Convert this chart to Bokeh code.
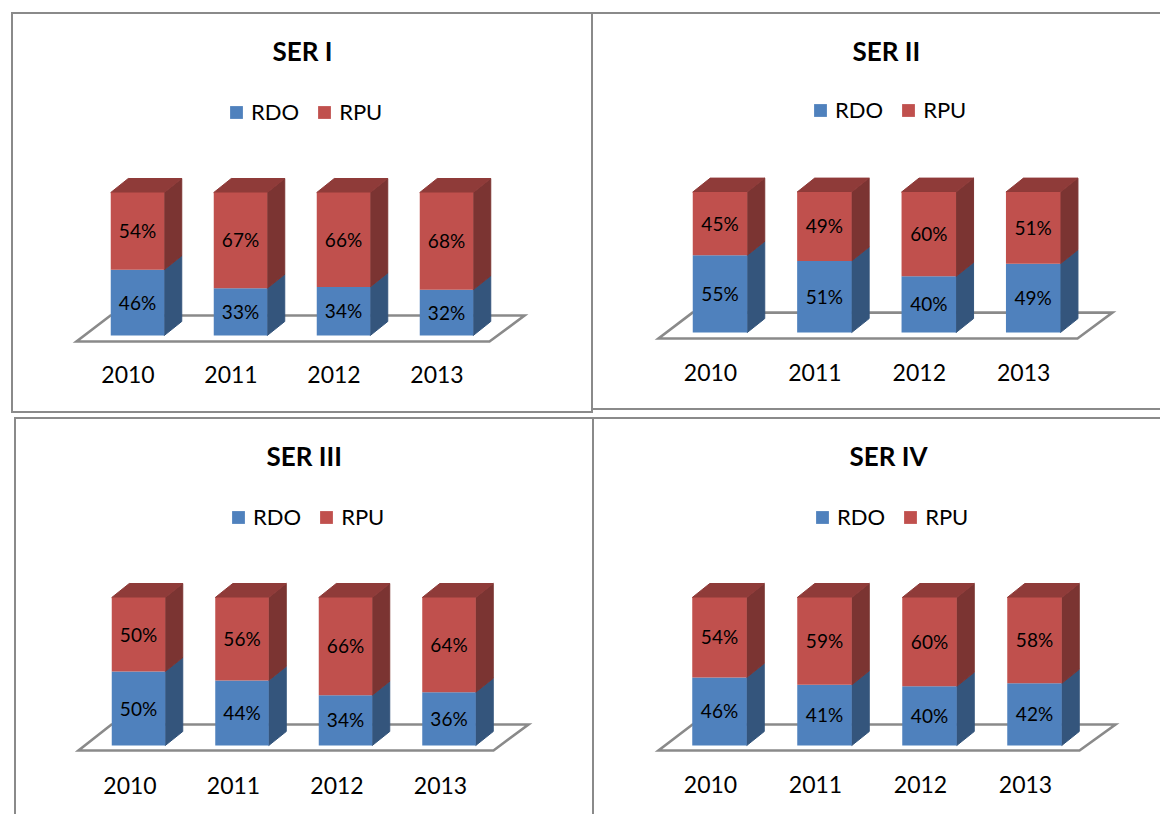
from bokeh.plotting import figure
from bokeh.layouts import column, row
from bokeh.models import Range1d, FixedTicker, Legend, LegendItem, ColumnDataSource
from bokeh.core.properties import value
from bokeh.embed import file_html
from bokeh.resources import INLINE

years = ["2010", "2011", "2012", "2013"]
titles = ["SER I", "SER II", "SER III", "SER IV"]
rdo = [[46, 33, 34, 32], [55, 51, 40, 49], [50, 44, 34, 36], [46, 41, 40, 42]]
rpu = [[54, 67, 66, 68], [45, 49, 60, 51], [50, 56, 66, 64], [54, 59, 60, 58]]

BLUE, RED = "#4F81BD", "#C0504D"
BLUE_S, RED_S, RED_T = "#34557C", "#7B3432", "#8F3B39"
GRAY = "#8A8A8A"
FONT = "Lato"

# page geometry per panel (pixels in the window)
geo = [
    dict(l=11, t=12, r=593, b=413, tick0=127.5, sp=103, bw=53.5, tickoff=9.5, top=192, base=335, floor=341,
         back=315, fl=76, fr=489, bl=110, br=524, leg=230, legy=113, stand=13, tleft=272, borders="tlrb", margin=(12, 0, 0, 11)),
    dict(l=593, t=12, r=1160, b=410, tick0=710, sp=104.4, bw=54.5, tickoff=9.5, top=192, base=333, floor=339,
         back=313, fl=658, fr=1077, bl=692, br=1112, leg=814, legy=112, stand=14, tleft=852, borders="tb", margin=(12, 0, 0, 0)),
    dict(l=14, t=417, r=592, b=814, tick0=129.5, sp=103.5, bw=53.5, tickoff=8.5, top=597, base=745, floor=750,
         back=724, fl=78, fr=493, bl=111, br=528, leg=232, legy=113, stand=15, tleft=266, borders="tl", margin=(4, 0, 0, 14)),
    dict(l=592, t=417, r=1160, b=814, tick0=710, sp=105, bw=54.5, tickoff=9, top=597, base=745, floor=750,
         back=724, fl=658, fr=1079, bl=692, br=1115, leg=816, legy=113, stand=14, tleft=849, borders="tl", margin=(4, 0, 0, 0)),
]
DX, DY = 17.5, 14


def panel(i):
    g = geo[i]
    w, h = g["r"] - g["l"], g["b"] - g["t"]
    bl = 2 if "l" in g["borders"] else 0
    bt = 2 if "t" in g["borders"] else 0
    frame_top, frame_bottom = g["t"] + 56, g["floor"] + 5
    sc = (g["base"] - g["top"]) / 100.0
    px = lambda v: (v - g["tick0"]) / g["sp"]
    py = lambda v: (g["base"] - v) / sc
    p = figure(width=w, height=h, output_backend="svg", toolbar_location=None,
               x_range=Range1d(px(g["l"] + bl), px(g["r"] + bl)), y_range=Range1d(py(frame_bottom), py(frame_top)),
               min_border_left=0, min_border_right=0, min_border_top=frame_top - g["t"] - bt,
               min_border_bottom=g["b"] + bt - frame_bottom, outline_line_color=None,
               background_fill_color="white", border_fill_color="white")
    p.margin = g["margin"]
    sides = {"t": "top", "l": "left", "r": "right", "b": "bottom"}
    p.styles = {f"border-{sides[s]}": f"2px solid {GRAY}" for s in g["borders"]} | {"box-sizing": "border-box"}

    p.title.text = titles[i]
    p.title.align = "left"
    p.title.offset = g["tleft"] - g["l"] - bl
    p.title.text_font = FONT
    p.title.text_font_style = "bold"
    p.title.text_font_size = "26px"
    p.title.text_color = "black"
    p.title.standoff = 4

    p.yaxis.visible = False
    p.grid.visible = False
    ax = p.xaxis[0]
    ax.ticker = FixedTicker(ticks=[0, 1, 2, 3])
    ax.major_label_overrides = {k: years[k] for k in range(4)}
    ax.axis_line_color = None
    ax.major_tick_line_color = None
    ax.minor_tick_line_color = None
    ax.major_label_text_font = FONT
    ax.major_label_text_font_size = "23px"
    ax.major_label_text_color = "black"
    ax.major_label_standoff = g["stand"]

    # floor of the 3-D plot
    p.patch([px(g["fl"]), px(g["fr"]), px(g["br"]), px(g["bl"])],
            [py(g["floor"]), py(g["floor"]), py(g["back"]), py(g["back"])],
            fill_color="white", line_color=GRAY, line_width=2.6, line_join="miter")

    xs = [k + g["tickoff"] / g["sp"] for k in range(4)]
    half = g["bw"] / 2 / g["sp"]
    ddx, ddy = DX / g["sp"], DY / sc
    a, b = rdo[i], rpu[i]
    tops = [x + y for x, y in zip(a, b)]

    # side and top faces
    p.patches([[x + half, x + half + ddx, x + half + ddx, x + half] for x in xs],
              [[0, ddy, ddy + v, v] for v in a], fill_color=BLUE_S, line_color=BLUE_S)
    p.patches([[x + half, x + half + ddx, x + half + ddx, x + half] for x in xs],
              [[v, v + ddy, t + ddy, t] for v, t in zip(a, tops)], fill_color=RED_S, line_color=RED_S)
    p.patches([[x - half, x + half, x + half + ddx, x - half + ddx] for x in xs],
              [[t, t, t + ddy, t + ddy] for t in tops], fill_color=RED_T, line_color=RED_T)

    # front faces
    r1 = p.vbar(x=xs, bottom=0, top=a, width=2 * half, fill_color=BLUE, line_color=None)
    r2 = p.vbar(x=xs, bottom=a, top=tops, width=2 * half, fill_color=RED, line_color=None)

    for vals, bottoms in ((a, [0] * 4), (b, a)):
        src = ColumnDataSource(dict(x=xs, y=[s + v / 2 for s, v in zip(bottoms, vals)],
                                    t=[f"{v}%" for v in vals]))
        p.text(x="x", y="y", text="t", source=src, text_align="center", text_baseline="middle",
               text_font=value(FONT), text_font_size="19px", text_color="black", y_offset=-0.5)

    leg = Legend(items=[LegendItem(label="RDO", renderers=[r1]), LegendItem(label="RPU", renderers=[r2])],
                 orientation="horizontal", location=(g["leg"] - g["l"] - bl - 2, frame_bottom - g["t"] - g["legy"]),
                 glyph_width=16, glyph_height=16, label_standoff=7, spacing=17, padding=0, margin=0,
                 border_line_color=None, background_fill_alpha=0,
                 label_text_font=FONT, label_text_font_size="22px", label_text_color="black")
    p.add_layout(leg, "center")
    return p


ps = [panel(i) for i in range(4)]
layout = column(row(ps[0], ps[1]), row(ps[2], ps[3]), spacing=0)
open("out.html", "w").write(file_html(layout, INLINE))
